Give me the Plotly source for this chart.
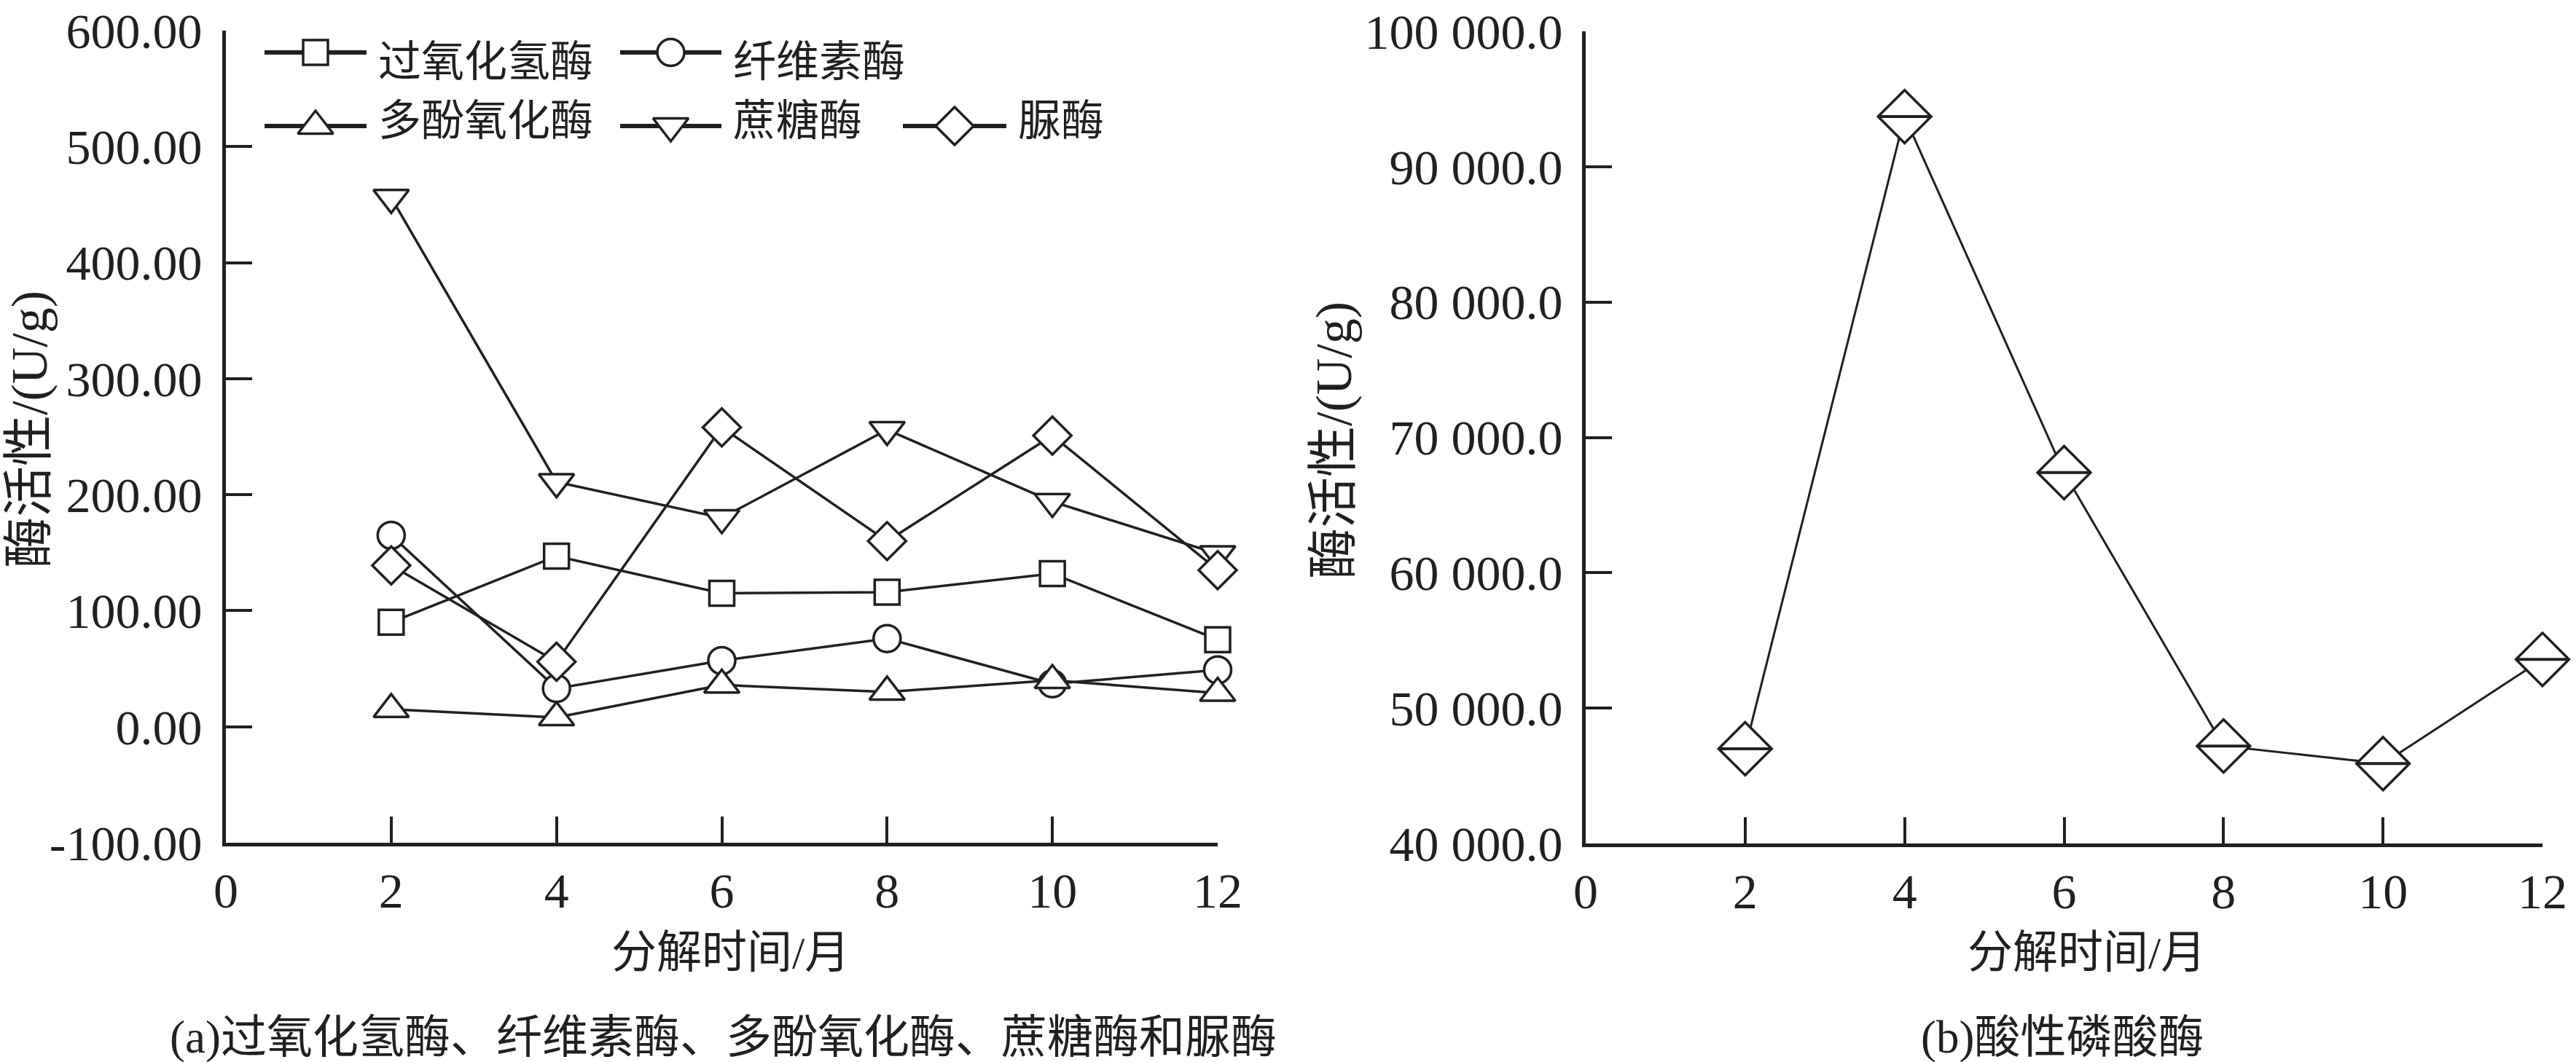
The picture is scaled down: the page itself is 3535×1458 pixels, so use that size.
import plotly.graph_objects as go

# decomposition time (months)
months = [2, 4, 6, 8, 10, 12]

# panel (a) enzyme activities, U/g
catalase = [90, 147, 115, 116, 132, 75]        # 过氧化氢酶
cellulase = [165, 33, 57, 76, 37, 49]          # 纤维素酶
polyphenol = [15, 8, 36, 30, 40, 29]           # 多酚氧化酶
sucrase = [456, 211, 180, 256, 194, 149]       # 蔗糖酶
urease = [139, 56, 258, 160, 251, 135]         # 脲酶

# panel (b) acid phosphatase, U/g
acid_phos = [47000, 93700, 67400, 47200, 45900, 53600]

names = ["过氧化氢酶", "纤维素酶", "多酚氧化酶", "蔗糖酶", "脲酶"]
series = [catalase, cellulase, polyphenol, sucrase, urease]
symbols = ["square", "circle", "triangle-up", "triangle-down", "diamond"]
sizes = [34, 37, 42, 42, 40]

x_ticks = [0, 2, 4, 6, 8, 10, 12]
y1_ticks = [-100, 0, 100, 200, 300, 400, 500, 600]
y1_text = ["-100.00", "0.00", "100.00", "200.00", "300.00", "400.00", "500.00", "600.00"]
y2_ticks = [40000, 50000, 60000, 70000, 80000, 90000, 100000]
y2_text = ["40 000.0", "50 000.0", "60 000.0", "70 000.0", "80 000.0", "90 000.0", "100 000.0"]

W, H = 3535, 1458
INK = "#231f20"
FONT = "Liberation Serif, Noto Sans CJK SC"

fig = go.Figure()

for name, vals, sym, sz in zip(names, series, symbols, sizes):
    fig.add_trace(go.Scatter(
        x=months, y=vals, name=name, mode="lines+markers",
        line=dict(color=INK, width=3.5),
        marker=dict(symbol=sym, size=sz, color="white", line=dict(color=INK, width=3.5)),
        cliponaxis=False, showlegend=False, xaxis="x", yaxis="y"))

fig.add_trace(go.Scatter(
    x=months, y=acid_phos, name="酸性磷酸酶", mode="lines+markers",
    line=dict(color=INK, width=3),
    marker=dict(symbol="diamond", size=56, color="white", line=dict(color=INK, width=3.5)),
    cliponaxis=False, showlegend=False, xaxis="x2", yaxis="y2"))
fig.add_trace(go.Scatter(
    x=months, y=acid_phos, mode="markers", hoverinfo="skip",
    marker=dict(symbol="line-ew", size=51, line=dict(color=INK, width=4)),
    cliponaxis=False, showlegend=False, xaxis="x2", yaxis="y2"))

# hand-placed legend keys (pixel layout on a hidden overlay axis)
key_rows = [72, 173]
text_rows = [85, 166]
key_slots = [(0, 0, 363, 503), (1, 0, 851, 990), (2, 1, 363, 503), (3, 1, 851, 990), (4, 1, 1239, 1381)]
for idx, row, x0, x1 in key_slots:
    yk = key_rows[row]
    fig.add_trace(go.Scatter(
        x=[x0, x1], y=[yk, yk], mode="lines", hoverinfo="skip",
        line=dict(color=INK, width=6), showlegend=False, xaxis="x3", yaxis="y3"))
    fig.add_trace(go.Scatter(
        x=[(x0 + x1) / 2], y=[yk], mode="markers", hoverinfo="skip",
        marker=dict(symbol=symbols[idx], size=sizes[idx], color="white",
                    line=dict(color=INK, width=3.5)),
        showlegend=False, xaxis="x3", yaxis="y3"))
    fig.add_annotation(x=x1 + 14, y=text_rows[row], xref="x3", yref="y3", text=names[idx],
                       showarrow=False, xanchor="left", yanchor="middle",
                       font=dict(size=59, family=FONT, color=INK))

axis_common = dict(showgrid=False, zeroline=False, showline=True, linecolor=INK, linewidth=5,
                   ticks="inside", ticklen=36, tickwidth=4, tickcolor=INK, automargin=False,
                   ticklabeloverflow="allow",
                   tickfont=dict(size=68, family="Liberation Serif", color=INK))

fig.update_layout(
    template="none",
    width=W, height=H, autosize=False,
    margin=dict(l=0, r=0, t=0, b=0, pad=0),
    paper_bgcolor="white", plot_bgcolor="rgba(0,0,0,0)",
    font=dict(family=FONT, color=INK),
    xaxis=dict(domain=[310 / W, 1671 / W], range=[0, 12], tickvals=x_ticks,
               ticklabelstandoff=2, **axis_common),
    yaxis=dict(domain=[1 - 1157 / H, 1 - 42 / H], range=[-100, 600],
               tickvals=y1_ticks, ticktext=y1_text, ticklabelstandoff=14, **axis_common),
    xaxis2=dict(domain=[2176 / W, 3489 / W], range=[0, 12], tickvals=x_ticks,
                ticklabelstandoff=2, anchor="y2", **axis_common),
    yaxis2=dict(domain=[1 - 1158 / H, 1 - 43 / H], range=[40000, 100000],
                tickvals=y2_ticks, ticktext=y2_text, ticklabelstandoff=13, anchor="x2",
                **axis_common),
    xaxis3=dict(domain=[0, 1], range=[0, W], visible=False, fixedrange=True, automargin=False),
    yaxis3=dict(domain=[0, 1], range=[H, 0], visible=False, fixedrange=True, anchor="x3",
                automargin=False),
)

texts = [
    (1003, 1308, "分解时间/月", 0, 62),
    (2863, 1308, "分解时间/月", 0, 62),
    (40, 590, "酶活性/(U/g)", -90, 70),
    (1830, 605, "酶活性/(U/g)", -90, 70),
    (992, 1424, "(a)过氧化氢酶、纤维素酶、多酚氧化酶、蔗糖酶和脲酶", 0, 63),
    (2830, 1424, "(b)酸性磷酸酶", 0, 63),
]
for px, py, txt, ang, fs in texts:
    fig.add_annotation(x=px / W, y=1 - py / H, xref="paper", yref="paper", text=txt,
                       showarrow=False, textangle=ang, xanchor="center", yanchor="middle",
                       font=dict(size=fs, family=FONT, color=INK))

fig.write_html("out.html", config={"displayModeBar": False},
               post_script="document.body.style.margin='0';")
